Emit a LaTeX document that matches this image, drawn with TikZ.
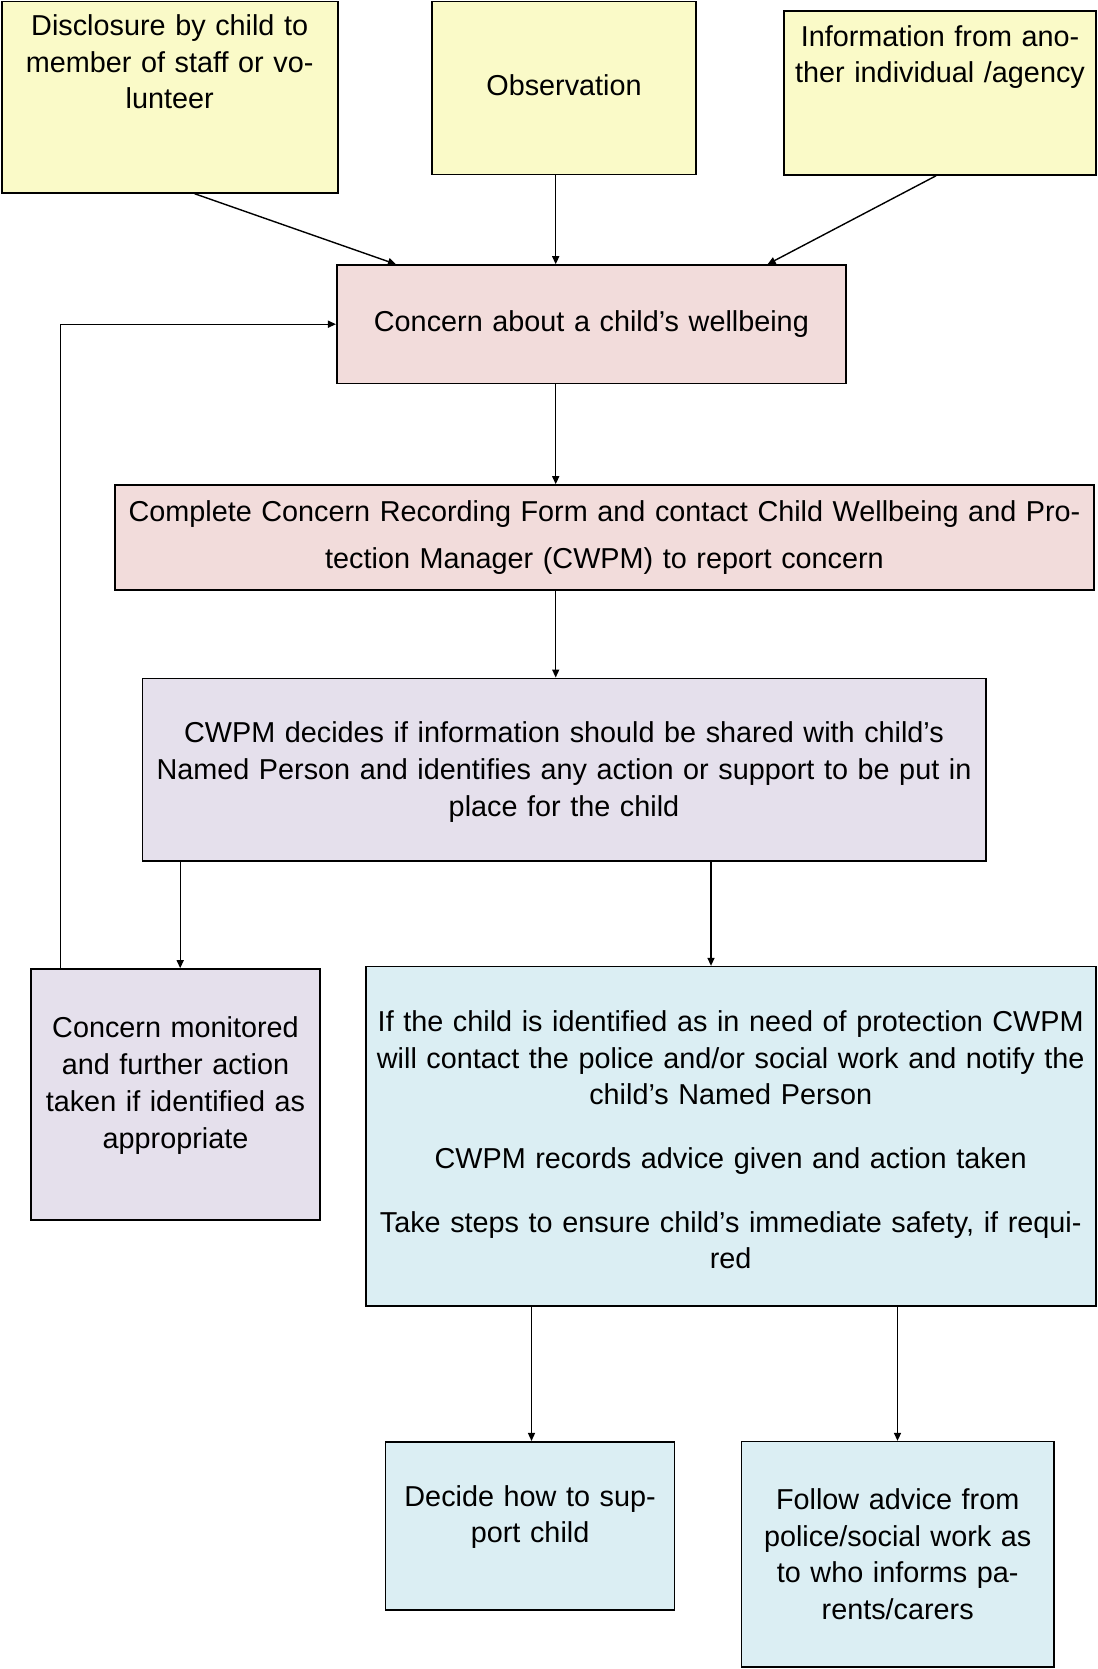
\documentclass[tikz,border=0pt]{standalone}
\usepackage{fontspec}
\setmainfont{Liberation Sans}
\usetikzlibrary{arrows.meta}

\definecolor{srcyellow}{HTML}{FAFAC8}
\definecolor{concernpink}{HTML}{F2DCDB}
\definecolor{cwpmlilac}{HTML}{E5E0EC}
\definecolor{actionblue}{HTML}{DBEEF3}

\tikzset{
  flowbox/.style={rectangle, draw=black, line width=1.6pt, align=center,
    inner xsep=0pt, inner ysep=4pt, font=\fontsize{28.8}{36.7}\selectfont},
  boxsize/.style 2 args={minimum width=#1pt, text width=#1pt, minimum height=#2pt},
  textup/.style={execute at end node={\par\vspace{#1}}}
}

\begin{document}
\begin{tikzpicture}[x=1pt, y=-1pt, ->, >={Triangle[length=8pt,width=7pt]}, line width=1.4pt]
  \useasboundingbox (0,0) rectangle (1097,1669);

  \node[flowbox, fill=srcyellow, boxsize={336}{191.3}, textup=70.6pt] (disc) at (169.7,97.3)
    {Disclosure by child to\\member of staff or vo-\\lunteer};
  \node[flowbox, fill=srcyellow, boxsize={264}{173}, textup=6pt] (obs) at (564,88) {Observation};
  \node[flowbox, fill=srcyellow, boxsize={312}{164}, textup=72pt] (info) at (940,93)
    {Information from ano-\\ther individual /agency};

  \node[flowbox, fill=concernpink, boxsize={509.3}{118.3}] (concern) at (591.4,324.2)
    {Concern about a child's wellbeing};
  \node[flowbox, fill=concernpink, boxsize={979}{105}] (form) at (604.5,537.5)
    {Complete Concern Recording Form and contact Child Wellbeing and Pro-\\[10.1pt]tection Manager (CWPM) to report concern};

  \node[flowbox, fill=cwpmlilac, boxsize={843.4}{182.7}, textup=-5pt] (cwpm) at (564,769.7)
    {CWPM decides if information should be shared with child's\\Named Person and identifies any action or support to be put in\\place for the child};
  \node[flowbox, fill=cwpmlilac, boxsize={289}{251}, textup=18pt] (monitor) at (175.5,1094.5)
    {Concern monitored\\and further action\\taken if identified as\\appropriate};

  \node[flowbox, fill=actionblue, boxsize={730}{339.3}, textup=-7pt] (protect) at (730.7,1136.3)
    {If the child is identified as in need of protection CWPM\\will contact the police and/or social work and notify the\\child's Named Person\\[27pt]CWPM records advice given and action taken\\[27pt]Take steps to ensure child's immediate safety, if requi-\\red};
  \node[flowbox, fill=actionblue, boxsize={289}{168.3}, textup=18pt] (support) at (530.1,1525.9)
    {Decide how to sup-\\port child};
  \node[flowbox, fill=actionblue, boxsize={312.5}{225.3}] (follow) at (897.7,1554.3)
    {Follow advice from\\police/social work as\\to who informs pa-\\rents/carers};

  \draw ([xshift=25pt]disc.south) -- ([xshift=60pt]concern.north west);
  \draw ([xshift=-8.3pt]obs.south) -- ([xshift=-8.3pt]obs.south |- concern.north);
  \draw ([xshift=-4pt]info.south) -- ([xshift=-79.3pt]concern.north east);
  \draw ([xshift=-35.7pt]concern.south) -- ([xshift=-35.7pt]concern.south |- form.north);
  \draw ([xshift=-8.3pt]cwpm.north |- form.south) -- ([xshift=-8.3pt]cwpm.north);
  \draw ([xshift=38.7pt]cwpm.south west) -- ([xshift=38.7pt]cwpm.south west |- monitor.north);
  \draw ([xshift=147pt]cwpm.south) -- ([xshift=147pt]cwpm.south |- protect.north);
  \draw ([xshift=166.6pt]protect.south west) -- ([xshift=166.6pt]protect.south west |- support.north);
  \draw ([xshift=532.6pt]protect.south west) -- ([xshift=532.6pt]protect.south west |- follow.north);
  \draw ([xshift=30pt]monitor.north west) |- (concern.west);
\end{tikzpicture}
\end{document}
